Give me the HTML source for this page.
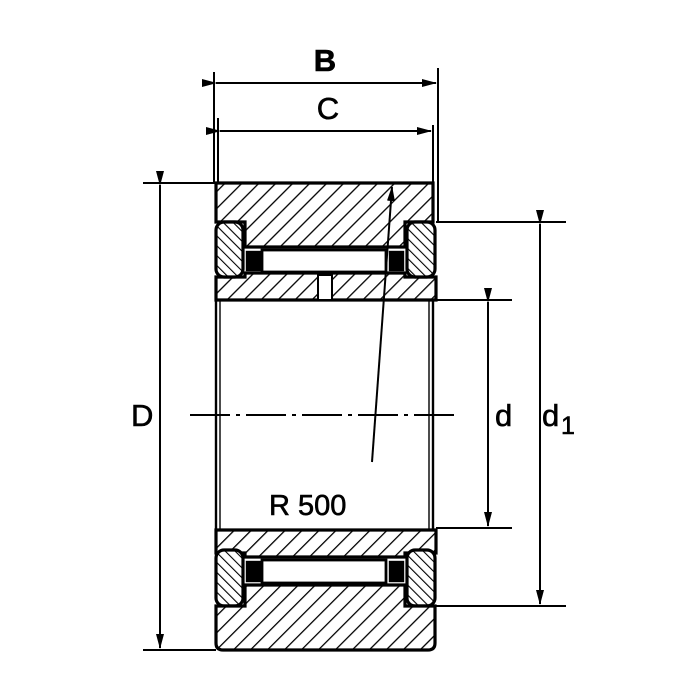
<!DOCTYPE html>
<html><head><meta charset="utf-8"><style>html,body{margin:0;padding:0;background:#fff}svg{display:block}</style></head>
<body>
<svg width="700" height="700" viewBox="0 0 700 700" xmlns="http://www.w3.org/2000/svg">
<defs>
<pattern id="h1" patternUnits="userSpaceOnUse" width="12" height="12" patternTransform="rotate(45)">
<rect width="12" height="12" fill="#fff"/><line x1="0" y1="0" x2="0" y2="12" stroke="#000" stroke-width="2.6"/></pattern>
<pattern id="h2" patternUnits="userSpaceOnUse" width="7" height="7" patternTransform="rotate(-45)">
<rect width="7" height="7" fill="#fff"/><line x1="0" y1="0" x2="0" y2="7" stroke="#000" stroke-width="2.2"/></pattern>
<marker id="a" markerWidth="15" markerHeight="10" refX="14" refY="5" orient="auto" markerUnits="userSpaceOnUse">
<path d="M0,1 L15,5 L0,9 Z" fill="#000"/></marker>
</defs>
<g stroke="#000" fill="none" stroke-width="2.4">
<path d="M216,183 H433 V222 H405 V247 H245 V222 H216 Z" fill="url(#h1)" stroke-width="3.2"/>
<path d="M216,277 H245 V273 H405 V277 H436 V300 H216 Z" fill="url(#h1)" stroke-width="3.2"/>
<rect x="318" y="275" width="14" height="25" fill="#fff" stroke-width="2"/>
<rect x="216" y="222" width="27" height="55" rx="8" fill="url(#h2)" stroke-width="3.2"/>
<rect x="407" y="222" width="28" height="55" rx="8" fill="url(#h2)" stroke-width="3.2"/>
<rect x="262" y="250" width="124" height="22" fill="#fff" stroke-width="2.8"/>
<rect x="247" y="252" width="13" height="18" fill="#000"/>
<rect x="390" y="252" width="13" height="18" fill="#000"/>
<line x1="216" y1="300" x2="216" y2="530"/><line x1="220" y1="300" x2="220" y2="530" stroke-width="1.4"/>
<line x1="433" y1="300" x2="433" y2="530"/><line x1="429" y1="300" x2="429" y2="530" stroke-width="1.4"/>
<path d="M216,530 H436 V553 H405 V557 H245 V553 H216 Z" fill="url(#h1)" stroke-width="3.2"/>
<rect x="216" y="550" width="27" height="56" rx="8" fill="url(#h2)" stroke-width="3.2"/>
<rect x="407" y="550" width="28" height="56" rx="8" fill="url(#h2)" stroke-width="3.2"/>
<path d="M245,585 H405 V606 H435 V643 Q435,650 428,650 H223 Q216,650 216,643 V606 H245 Z" fill="url(#h1)" stroke-width="3.2"/>
<rect x="262" y="560" width="124" height="23" fill="#fff" stroke-width="2.8"/>
<rect x="247" y="562" width="13" height="19" fill="#000"/>
<rect x="390" y="562" width="13" height="19" fill="#000"/>
<g stroke-width="2">
<line x1="214" y1="72" x2="214" y2="183"/><line x1="438" y1="68" x2="438" y2="222"/>
<line x1="218" y1="118" x2="218" y2="183"/><line x1="433" y1="125" x2="433" y2="183"/>
<line x1="143" y1="183" x2="216" y2="183"/><line x1="143" y1="650" x2="216" y2="650"/>
<line x1="436" y1="222" x2="566" y2="222"/><line x1="436" y1="606" x2="566" y2="606"/>
<line x1="436" y1="300" x2="512" y2="300"/><line x1="436" y1="528" x2="512" y2="528"/>
<line x1="216" y1="83" x2="436" y2="83" marker-start="url(#a)" marker-end="url(#a)"/>
<line x1="220" y1="131" x2="431" y2="131" marker-start="url(#a)" marker-end="url(#a)"/>
<line x1="160" y1="185" x2="160" y2="648" marker-start="url(#a)" marker-end="url(#a)"/>
<line x1="488" y1="302" x2="488" y2="526" marker-start="url(#a)" marker-end="url(#a)"/>
<line x1="540" y1="224" x2="540" y2="604" marker-start="url(#a)" marker-end="url(#a)"/>
<line x1="190" y1="415" x2="460" y2="415" stroke-dasharray="40,6,4,6"/>
<line x1="372" y1="462" x2="392" y2="187" marker-end="url(#a)"/>
</g>
</g>
<g font-family="Liberation Sans, sans-serif" font-size="31" fill="#000" stroke="#000" stroke-width="0.6">
<text x="325" y="71" text-anchor="middle" font-weight="bold">B</text>
<text x="328" y="119" text-anchor="middle">C</text>
<text x="131" y="426">D</text>
<text x="495" y="426">d</text>
<text x="542" y="426">d</text><text x="561" y="434" font-size="25">1</text>
<text x="269" y="515" font-size="29">R 500</text>
</g>
</svg>
</body></html>
